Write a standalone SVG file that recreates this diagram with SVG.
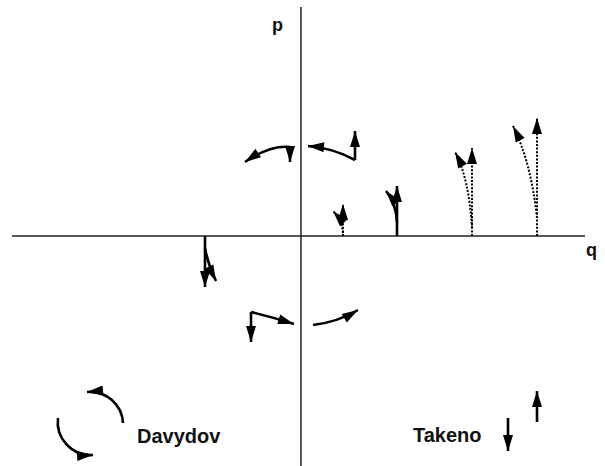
<svg xmlns="http://www.w3.org/2000/svg" width="605" height="466" viewBox="0 0 605 466">
<style>
.axis{stroke:#222;stroke-width:1.5;fill:none}
.s{stroke:#000;stroke-width:2.6;fill:none;marker-end:url(#ah)}
.d{stroke:#000;stroke-width:2;stroke-dasharray:2,1.6;fill:none;marker-end:url(#ah)}
.lbl{font-family:"Liberation Sans",Arial,sans-serif;font-weight:bold;fill:#111}
</style>
<defs>
<marker id="ah" markerUnits="userSpaceOnUse" markerWidth="20" markerHeight="12" refX="16" refY="5" orient="auto" overflow="visible">
<path d="M0,0 L16,5 L0,10 z" fill="#000"/>
</marker>
</defs>
<rect width="605" height="466" fill="#fff"/>
<g id="axes">
<line class="axis" x1="12" y1="236" x2="585" y2="236"/>
<line class="axis" x1="301" y1="7" x2="301" y2="466"/>
<text class="lbl" x="272" y="31" font-size="18">p</text>
<text class="lbl" x="586" y="256" font-size="18">q</text>
</g>
<g id="connectors">
<g id="davydov-q2">
<path class="s" d="M290,147 Q270,145 245,162"/>
<path class="s" d="M290,147 L290,162"/>
</g>
<g id="davydov-q1">
<path class="s" d="M355,160 Q333,148 308,146"/>
<path class="s" d="M355,160 L355,131"/>
</g>
<g id="davydov-q3">
<path class="s" d="M251,312 Q272,317 294,324"/>
<path class="s" d="M251,312 L251,342"/>
</g>
<g id="davydov-q4">
<path class="s" d="M313,325 Q338,322 358,310"/>
</g>
<g id="davydov-neg-q">
<path class="s" d="M205,236 L205,287"/>
<path class="s" d="M205,248 Q208,265 216,281"/>
</g>
<g id="takeno-1">
<path class="d" d="M343,236 L343,204"/>
<path class="d" d="M343,233 Q342,221 333,211"/>
</g>
<g id="takeno-2">
<path class="s" d="M397,236 L397,186"/>
<path class="s" d="M397,222 Q396,203 386,191"/>
</g>
<g id="takeno-3">
<path class="d" d="M472,236 L472,148"/>
<path class="d" d="M472,228 Q469,178 455,152"/>
</g>
<g id="takeno-4">
<path class="d" d="M537,236 L537,118"/>
<path class="d" d="M537,218 Q531,162 513,126"/>
</g>
<g id="legend-davydov">
<path class="s" d="M123,423 A33,33 0 0 0 87,392"/>
<path class="s" d="M58,418 A33,33 0 0 0 93,455"/>
</g>
<g id="legend-takeno">
<path class="s" d="M508,418 L508,451"/>
<path class="s" d="M537,422 L537,391"/>
</g>
</g>
<g id="label-davydov"><text class="lbl" x="137" y="443" font-size="20">Davydov</text></g>
<g id="label-takeno"><text class="lbl" x="413" y="442" font-size="20">Takeno</text></g>
</svg>
